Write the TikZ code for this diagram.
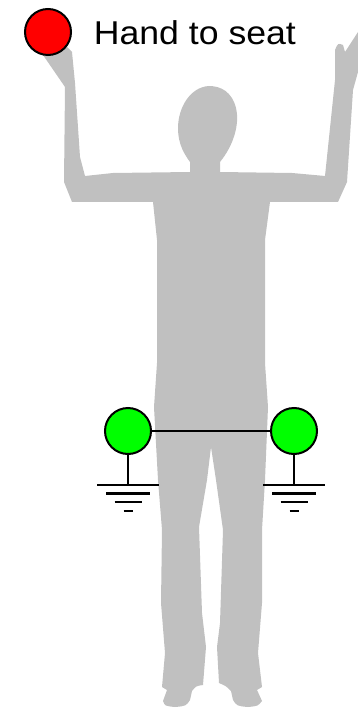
\documentclass[tikz,border=0pt]{standalone}
\usepackage{fontspec}
\setmainfont{Liberation Sans}
\usetikzlibrary{calc}

\definecolor{body}{HTML}{C0C0C0}
\definecolor{hot}{HTML}{FF0000}
\definecolor{safe}{HTML}{00FF00}

\begin{document}
\begin{tikzpicture}[x=1pt,y=-1pt,
    contact/.style={circle,draw=black,line width=2pt,minimum size=46pt,inner sep=0pt},
    wire/.style={line width=2pt}]
  \useasboundingbox (0,0) rectangle (357,711);

  % silhouette of the person (arms up)
  \fill[body]
    (43,55) -- (65,87) -- (64,182) -- (72,202) -- (153,202)
    -- (157,240) -- (157,363) .. controls (155,385) .. (154,407)
    -- (158,480) -- (162,530) -- (161,603) -- (165,653) -- (162,687)
    -- (167,690) -- (163,701) .. controls (165,706) .. (175,707)
    .. controls (186,706) .. (190,700) -- (192,691) .. controls (196,686) .. (203,685)
    -- (206,647) -- (202,613) -- (199,527) -- (207,480) -- (211,447)
    -- (216,480) -- (223,530) -- (220,623) -- (217,647) -- (219,683)
    .. controls (226,686) .. (231,691) -- (233,700) .. controls (237,706) .. (248,707)
    .. controls (258,706) .. (262,701) -- (257,690) -- (262,687)
    -- (258,653) -- (262,603) -- (262,530) -- (265,480)
    -- (268,407) .. controls (267,385) .. (265,363) -- (265,240) -- (270,202)
    -- (338,202) -- (347,182) -- (353,90) -- (358,72) -- (358,32)
    -- (345,52) -- (343,45) .. controls (338,43) .. (335,50) -- (335,80)
    -- (325,176) -- (292,173) -- (220,172) -- (220,162)
    .. controls (233,146) and (240,125) .. (236,108)
    .. controls (232,92) and (221,86) .. (209,86)
    .. controls (190,87) and (178,108) .. (178,128)
    .. controls (178,145) and (185,155) .. (190,162)
    -- (190,172) -- (113,173) -- (85,176) -- (80,157) -- (75,83)
    -- (72,52) -- (67,47) -- cycle;

  % seat contact and label
  \node[contact,fill=hot] (seat) at (48,32) {};
  \node[anchor=base west,font=\fontsize{33}{33}\selectfont,xscale=1.08] (lbl) at (90,45) {Hand to seat};

  % foot contacts
  \node[contact,fill=safe] (footL) at (128,431) {};
  \node[contact,fill=safe] (footR) at (294,431) {};
  \draw[wire] (footL) -- (footR);

  % grounds
  \foreach \f in {footL,footR}{
    \coordinate (\f-gnd) at ($(\f)+(0,54)$);
    \draw[wire] (\f.south) -- (\f-gnd);
    \foreach \w/\dy in {31/0,22/8.5,13.5/17,4.5/26}{
      \draw[line width=2.5pt] ($(\f-gnd)+(-\w,\dy)$) -- ($(\f-gnd)+(\w,\dy)$);
    }
  }
\end{tikzpicture}
\end{document}
